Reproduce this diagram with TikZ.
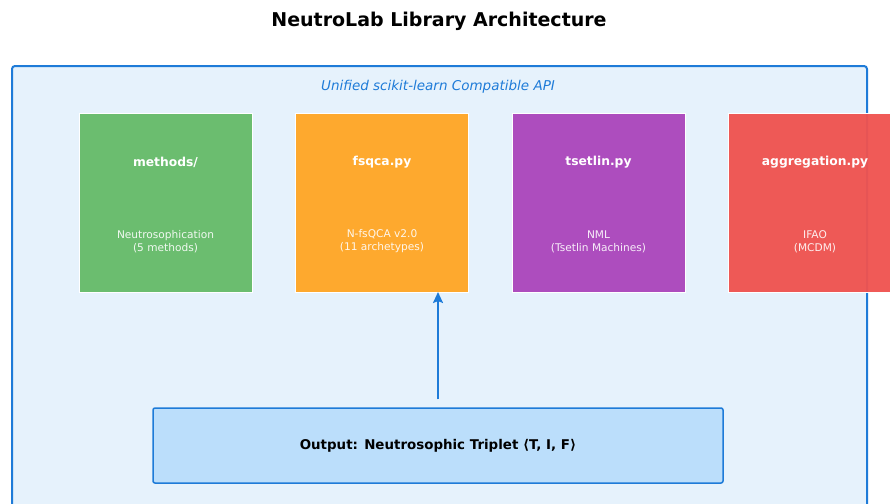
\documentclass[tikz,border=0pt]{standalone}
\usepackage{fontspec}
\setmainfont{DejaVu Sans}
\usepackage{tikz}
\usetikzlibrary{shapes,arrows,arrows.meta,positioning,fit,calc}
\usepackage{xcolor}
\definecolor{apiblue}{HTML}{1E7BD8}
\definecolor{apifill}{HTML}{E6F2FC}
\definecolor{outfill}{HTML}{BBDEFB}
\definecolor{modgreen}{HTML}{66BB6A}
\definecolor{modorange}{HTML}{FFA726}
\definecolor{modpurple}{HTML}{AB47BC}
\definecolor{modred}{HTML}{EF5350}

\begin{document}
\begin{tikzpicture}[x=1pt, y=-1pt,
        apibox/.style={draw=apiblue, fill=apifill, line width=2pt, rounded corners=3pt, anchor=north west, minimum width=855pt, minimum height=470pt, inner sep=0pt},
        modbox/.style={draw=white, line width=1pt, fill opacity=0.96, minimum width=173pt, minimum height=179pt, inner sep=0pt, outer sep=0pt},
        modname/.style={font=\fontsize{12.3}{14}\selectfont\bfseries, text=white},
        moddesc/.style={font=\fontsize{10.6}{13}\selectfont, text=white, text opacity=0.9, align=center},
        outbox/.style={draw=apiblue, fill=outfill, line width=1.5pt, rounded corners=2pt, minimum width=570pt, minimum height=75pt, font=\fontsize{13.4}{16}\selectfont\bfseries},
        arrow/.style={-{Stealth[length=11pt, width=10pt, inset=2pt]}, line width=2pt, draw=apiblue},
        node distance=43.5pt
    ]
        \useasboundingbox (0,0) rectangle (890,503);
        \clip (0,0) rectangle (890,503);

        % Title and frame
        \node[font=\fontsize{19}{22}\selectfont\bfseries] (title) at (439,21) {NeutroLab Library Architecture};
        \node[apibox] (api) at (11,65) {};
        \node[font=\fontsize{13.5}{16}\selectfont\itshape, text=apiblue] (apilabel) at (438,87) {Unified scikit-learn Compatible API};

        % Modules
        \node[modbox, fill=modgreen] (methods) at (165.5,202.5) {};
        \node[modbox, fill=modorange, right=of methods] (fsqca) {};
        \node[modbox, fill=modpurple, right=of fsqca] (tsetlin) {};
        \node[modbox, fill=modred, right=of tsetlin] (aggr) {};

        \node[modname] (methods-name) at ($(methods.center)+(0,-40)$) {methods/};
        \node[modname] (fsqca-name) at ($(fsqca.center)+(0,-40)$) {fsqca.py};
        \node[modname] (tsetlin-name) at ($(tsetlin.center)+(0,-40)$) {tsetlin.py};
        \node[modname] (aggr-name) at ($(aggr.center)+(0,-40)$) {aggregation.py};

        \node[moddesc] (methods-desc) at ($(methods.center)+(0,39)$) {Neutrosophication\\(5 methods)};
        \node[moddesc] (fsqca-desc) at ($(fsqca.center)+(0,39)$) {N-fsQCA v2.0\\(11 archetypes)};
        \node[moddesc] (tsetlin-desc) at ($(tsetlin.center)+(0,39)$) {NML\\(Tsetlin Machines)};
        \node[moddesc] (aggr-desc) at ($(aggr.center)+(0,39)$) {IFAO\\(MCDM)};

        % Output
        \node[outbox] (output) at (438,445.5) {Output: Neutrosophic Triplet ⟨T, I, F⟩};

        % Arrow
        \draw[arrow, shorten <=8pt] (output.north) -- (output.north |- fsqca.south);
    \end{tikzpicture}
\end{document}
